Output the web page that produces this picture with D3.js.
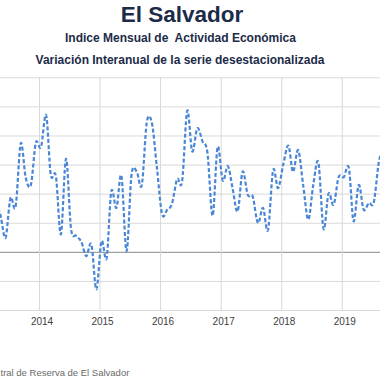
<!DOCTYPE html>
<html>
<head>
<meta charset="utf-8">
<script src="https://cdn.jsdelivr.net/npm/d3@7"></script>
<style>
  html, body { margin: 0; padding: 0; background: #ffffff; overflow: hidden; }
  svg { display: block; }
</style>
</head>
<body>
<svg id="chart" width="380" height="380"></svg>
<script>
// ---- data ----
const startMonth = "2013-04"; // first observation (month of first value)
const values = [
  1.70, 1.28, 0.48, 1.85, 1.56, 3.73, 2.55, 2.30, 3.75,          // Apr-Dec 2013
  3.60, 4.70, 2.65, 2.60, 0.60, 3.20, 0.80, 0.55, 0.35, -0.15, 0.25, -1.29, // 2014
  0.36, -0.21, 2.08, 1.51, 2.61, 0.02, 2.65, 2.76, 2.30, 4.45, 4.42, 2.90,  // 2015
  1.30, 1.45, 1.65, 2.50, 2.42, 4.85, 3.45, 4.25, 3.80, 3.40, 1.24, 3.60,   // 2016
  2.45, 2.95, 2.20, 1.39, 2.76, 1.96, 1.90, 0.99, 1.51, 0.75, 2.81, 2.19,   // 2017
  3.00, 3.65, 2.75, 3.50, 2.30, 1.11, 2.30, 3.07, 0.79, 2.00, 1.62, 2.57,   // 2018
  2.57, 2.88, 1.05, 2.30, 1.45, 1.68, 1.70, 3.10, 3.60                      // 2019
];
const yearTicks = ["2014", "2015", "2016", "2017", "2018", "2019"];
const yTicks = [-2, -1, 0, 1, 2, 3, 4, 5, 6];
const titleText = "El Salvador";
const subtitle1 = "Indice Mensual de  Actividad Económica";
const subtitle2 = "Variación Interanual de la serie desestacionalizada";
const sourceText = "tral de Reserva de El Salvador";

// ---- layout ----
const svg = d3.select("#chart");
const parseMonth = d3.timeParse("%Y-%m");
const first = parseMonth(startMonth);
const series = values.map((v, i) => {
  const d = d3.timeMonth.offset(first, i);
  return { date: new Date(d.getFullYear(), d.getMonth(), 13), value: v };
});

const yearDates = yearTicks.map(y => new Date(+y, 0, 1));
const x = d3.scaleTime()
  .domain([new Date(2014, 0, 1), new Date(2020, 0, 1)])
  .range([39, 402.3]);
const y = d3.scaleLinear().domain([-2, 6]).range([310, 77.3]);

const plotLeft = x(new Date(2013, 0, 1));
const plotRight = x(new Date(2020, 0, 1));

// titles
svg.append("text").attr("x", 182).attr("y", 21.5)
  .attr("text-anchor", "middle")
  .style("font-family", "Liberation Sans, Arial, sans-serif")
  .style("font-weight", "bold").style("font-size", "22.5px")
  .attr("fill", "#1c2b48").text(titleText);
svg.append("text").attr("x", 180.5).attr("y", 41.5)
  .attr("text-anchor", "middle")
  .style("font-family", "Liberation Sans, Arial, sans-serif")
  .style("font-weight", "bold").style("font-size", "12px")
  .style("white-space", "pre").attr("xml:space", "preserve")
  .attr("fill", "#1c2b48").text(subtitle1);
svg.append("text").attr("x", 180).attr("y", 63.5)
  .attr("text-anchor", "middle")
  .style("font-family", "Liberation Sans, Arial, sans-serif")
  .style("font-weight", "bold").style("font-size", "12px")
  .attr("fill", "#1c2b48").text(subtitle2);

// y gridlines (labels lie outside the visible frame in the reference)
const yAxis = svg.append("g")
  .attr("transform", `translate(${plotLeft},0)`)
  .call(d3.axisLeft(y).tickValues(yTicks).tickSize(-(plotRight - plotLeft)).tickFormat(""));
yAxis.select(".domain").remove();
yAxis.selectAll(".tick line")
  .attr("stroke", d => d === 0 ? "#a0a0a0" : "#d9d9d9")
  .attr("stroke-width", d => d === 0 ? 1.3 : 1);

// x gridlines + labels
const xAxis = svg.append("g")
  .attr("transform", `translate(0,${y(-2)})`)
  .call(d3.axisBottom(x).tickValues(yearDates).tickSize(-(y(-2) - y(6))).tickPadding(8)
    .tickFormat(d3.timeFormat("%Y")));
xAxis.select(".domain").remove();
xAxis.selectAll(".tick line").attr("stroke", "#d9d9d9");
xAxis.selectAll(".tick text")
  .attr("dx", 2.5)
  .attr("fill", "#404040")
  .style("font-family", "Liberation Sans, Arial, sans-serif")
  .style("font-size", "10px");

// clip
svg.append("clipPath").attr("id", "plotclip")
  .append("rect").attr("x", plotLeft).attr("y", y(6) - 10)
  .attr("width", plotRight - plotLeft).attr("height", y(-2) - y(6) + 20);

// line
const line = d3.line()
  .x(d => x(d.date))
  .y(d => y(d.value))
  .curve(d3.curveCardinal.tension(0));
svg.append("path")
  .datum(series)
  .attr("clip-path", "url(#plotclip)")
  .attr("d", line)
  .attr("fill", "none")
  .attr("stroke", "#4a86d6")
  .attr("stroke-width", 2.2)
  .attr("stroke-dasharray", "4,2.2");

// source
svg.append("text").attr("x", 0.5).attr("y", 376)
  .attr("text-anchor", "start")
  .style("font-family", "Liberation Sans, Arial, sans-serif")
  .style("font-size", "9.5px")
  .attr("fill", "#6a6a6a").text(sourceText);
</script>
</body>
</html>
